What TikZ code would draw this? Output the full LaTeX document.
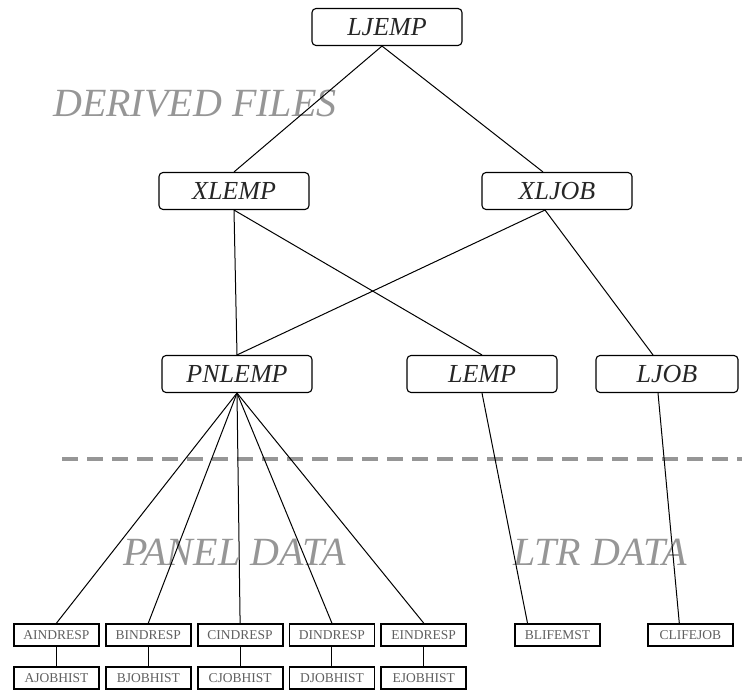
\documentclass[tikz,border=0pt]{standalone}
\usepackage{fontspec}
\setmainfont{Liberation Serif}
\usetikzlibrary{positioning, calc}
\definecolor{regiongray}{RGB}{150,150,150}
\definecolor{filetext}{RGB}{95,95,95}

\begin{document}
\begin{tikzpicture}[
    x=1pt, y=1pt,
    node distance=19pt and 5pt,
    derived/.style={draw, line width=1.1pt, rounded corners=4pt, minimum width=150pt, minimum height=37pt, inner sep=0pt, font=\fontsize{26}{28}\selectfont\itshape, text=black!85},
    panel/.style={draw, line width=1.8pt, minimum width=85pt, minimum height=22pt, inner sep=0pt, font=\fontsize{13.5}{15}\selectfont, text=filetext},
    link/.style={line width=1pt},
    region/.style={font=\fontsize{40}{42}\selectfont\itshape, text=regiongray, anchor=base west, inner sep=0pt},
    divider/.style={draw=regiongray, line width=3.5pt, dash pattern=on 16pt off 9pt}
]
    \useasboundingbox (0,0) rectangle (742,691);

    % Region labels
    \node[region] (derivedlbl) at (53,574) {DERIVED FILES};
    \node[region] (panellbl) at (123,125) {PANEL DATA};
    \node[region] (ltrlbl) at (513,125) {LTR DATA};

    % Divider
    \coordinate (divleft) at (62,232);
    \coordinate (divright) at (742,232);
    \draw[divider] (divleft) -- (divright);

    % Derived files
    \node[derived] (ljemp) at (387,664) {LJEMP};
    \node[derived] (xlemp) at (234,500) {XLEMP};
    \node[derived] (xljob) at (557,500) {XLJOB};
    \node[derived] (pnlemp) at (237,317) {PNLEMP};
    \node[derived] (lemp) at (482,317) {LEMP};
    \node[derived, minimum width=142pt] (ljob) at (667,317) {LJOB};

    % Panel and LTR files
    \node[panel] (aindresp) at (56.5,56) {AINDRESP};
    \node[panel, right=of aindresp] (bindresp) {BINDRESP};
    \node[panel, right=of bindresp] (cindresp) {CINDRESP};
    \node[panel, right=of cindresp] (dindresp) {DINDRESP};
    \node[panel, right=of dindresp] (eindresp) {EINDRESP};
    \node[panel, right=47pt of eindresp] (blifemst) {BLIFEMST};
    \node[panel, right=46pt of blifemst] (clifejob) {CLIFEJOB};
    \node[panel, below=of aindresp] (ajobhist) {AJOBHIST};
    \node[panel, below=of bindresp] (bjobhist) {BJOBHIST};
    \node[panel, below=of cindresp] (cjobhist) {CJOBHIST};
    \node[panel, below=of dindresp] (djobhist) {DJOBHIST};
    \node[panel, below=of eindresp] (ejobhist) {EJOBHIST};

    % Links
    \draw[link] ([xshift=-5pt]ljemp.south) -- (xlemp.north);
    \draw[link] ([xshift=-5pt]ljemp.south) -- ([xshift=-14pt]xljob.north);
    \draw[link] (xlemp.south) -- (pnlemp.north);
    \draw[link] (xlemp.south) -- (lemp.north);
    \draw[link] ([xshift=-12pt]xljob.south) -- (pnlemp.north);
    \draw[link] ([xshift=-12pt]xljob.south) -- ([xshift=-14pt]ljob.north);
    \foreach \f in {aindresp, bindresp, cindresp, dindresp, eindresp}
        \draw[link] (pnlemp.south) -- (\f.north);
    \draw[link] (lemp.south) -- ([xshift=-30pt]blifemst.north);
    \draw[link] ([xshift=-9pt]ljob.south) -- ([xshift=-11pt]clifejob.north);
    \foreach \f/\g in {aindresp/ajobhist, bindresp/bjobhist, cindresp/cjobhist, dindresp/djobhist, eindresp/ejobhist}
        \draw[link] (\f) -- (\g);
\end{tikzpicture}
\end{document}
